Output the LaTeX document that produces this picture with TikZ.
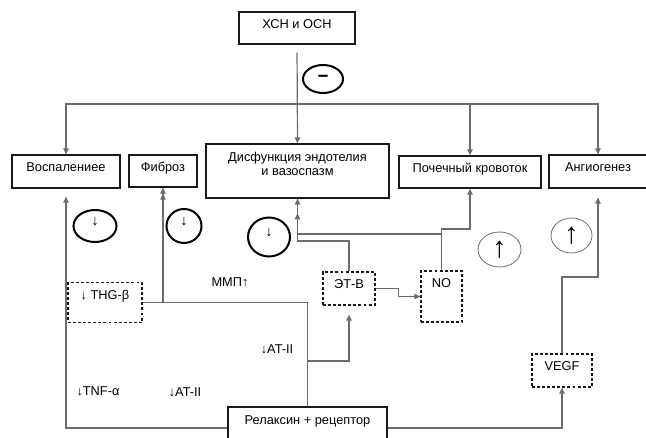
\documentclass[tikz,border=0pt]{standalone}
\usepackage{fontspec}
\setmainfont{Liberation Sans}
\usetikzlibrary{arrows.meta,shapes.geometric}
\definecolor{wiregray}{RGB}{108,108,108}
\definecolor{ink}{RGB}{25,25,25}
\tikzset{
  box/.style={draw=ink, line width=0.9pt, inner xsep=0pt, inner ysep=0pt,
              text height=12.4pt, font=\fontsize{9.6}{10.5}\selectfont},
  dbox/.style={box, dash pattern=on 2.2pt off 1.6pt},
  sign/.style={ellipse, draw=black, line width=1.5pt, inner sep=0pt},
  lightsign/.style={ellipse, draw=wiregray, line width=0.6pt, inner sep=0pt},
  link/.style={wiregray, line width=0.9pt},
  flow/.style={link, -{Triangle[length=4.5pt,width=4pt]}},
  tag/.style={font=\fontsize{9.6}{10.5}\selectfont, inner sep=0pt},
}

\begin{document}
\begin{tikzpicture}[x=0.75pt, y=-0.75pt]
  \useasboundingbox (0,0) rectangle (646,438);
  % source and the five targets
  \node[box, minimum width=87pt, text depth=11.6pt] (xsn) at (297,28) {ХСН и ОСН};
  \node[sign, minimum width=30pt, minimum height=21pt] (minus) at (323,79)
    {\fontsize{14}{14}\selectfont\bfseries −};
  \node[box, minimum width=81pt, text depth=12.35pt] (vosp) at (66,171.5) {Воспалениее};
  \node[box, minimum width=51pt, text depth=11.6pt] (fib) at (163,171) {Фиброз};
  \node[box, minimum width=137.25pt, text height=13.1pt, text depth=27.4pt] (dys) at (297.5,171)
    {\begin{tabular}[t]{@{}c@{}}Дисфункция эндотелия\\и вазоспазм\end{tabular}};
  \node[box, minimum width=106.5pt, text depth=11.6pt] (poch) at (470,172) {Почечный кровоток};
  \node[box, minimum width=73.5pt, text depth=12.35pt] (angio) at (598,171.5) {Ангиогенез};

  % mediators
  \node[dbox, minimum width=55.5pt, text height=13.1pt, text depth=16.9pt] (thg) at (105,302.5) {↓ THG-β};
  \node[dbox, minimum width=39pt, text depth=12.35pt] (etb) at (349,288.5) {ЭТ-В};
  \node[dbox, minimum width=30.75pt, text depth=25.85pt] (no) at (441.5,296.5) {NO};
  \node[dbox, minimum width=45pt, text depth=12.35pt] (vegf) at (562,370.5) {VEGF};
  \node[box, minimum width=119.25pt, text height=13.1pt, text depth=18.4pt] (relax) at (307.5,428)
    {Релаксин + рецептор};

  % effect signs
  \node[sign, minimum width=32.25pt, minimum height=24pt] (dnvosp) at (95,226)
    {\raisebox{6.5pt}{\fontsize{11}{11}\selectfont ↓}};
  \node[sign, minimum width=26.25pt, minimum height=25.5pt] (dnfib) at (184,226)
    {\raisebox{6.5pt}{\fontsize{11}{11}\selectfont ↓}};
  \node[sign, minimum width=31.5pt, minimum height=29.25pt] (dndys) at (269,237)
    {\raisebox{6.5pt}{\fontsize{11}{11}\selectfont ↓}};
  \node[lightsign, minimum width=32.25pt, minimum height=26.25pt] (uppoch) at (499.5,249.5)
    {\fontsize{22}{22}\selectfont ↑};
  \node[lightsign, minimum width=30.75pt, minimum height=26.25pt] (upangio) at (571.5,235.5)
    {\fontsize{22}{22}\selectfont ↑};

  % free labels
  \node[tag] (mmp) at (230,282) {ММП↑};
  \node[tag] (atup) at (277,349) {↓AT-II};
  \node[tag] (tnf) at (98,391) {↓TNF-α};
  \node[tag] (atlow) at (185,392) {↓AT-II};

  % top-down branches
  \coordinate (split) at (297.5,104);
  \draw[flow, shorten <=6pt] (xsn.south) -- (dys.north);
  \draw[flow] (split) -| (vosp.north);
  \draw[flow] (split) -| (poch.north);
  \draw[flow] (split) -| (angio.north);

  % relaxin paths
  \coordinate (fibjoin) at (163,302.5);
  \coordinate (atjoin) at (307.5,361);
  \coordinate (etbbend) at (297.5,241);
  \coordinate (dysjoin) at (297.5,234);
  \coordinate (nobend) at (470,229);
  \coordinate (vegfbend) at (598,277);
  \draw[flow, shorten >=6pt] (relax.west) -| (vosp.south);
  \draw[link] (relax.north) |- (fibjoin);
  \draw[flow, shorten >=4.5pt] (fibjoin) -- (fib.south);
  \draw[flow] (thg.east) -| (fib.south);
  \draw[flow, shorten >=6.75pt] (atjoin) -| (etb.south);
  \draw[flow, shorten >=11pt] (etb.north) |- (etbbend) -- (dys.south);
  \draw[flow] (no.north) |- (nobend) -- (poch.south);
  \draw[flow] (no.north |- dysjoin) -| (dys.south);
  \draw[flow] (etb.east) -- ++(23,0) |- (no.west);
  \draw[flow] (relax.east) -| (vegf.south);
  \draw[flow, shorten >=6.75pt] (vegf.north) |- (vegfbend) -- (angio.south);
\end{tikzpicture}
\end{document}
